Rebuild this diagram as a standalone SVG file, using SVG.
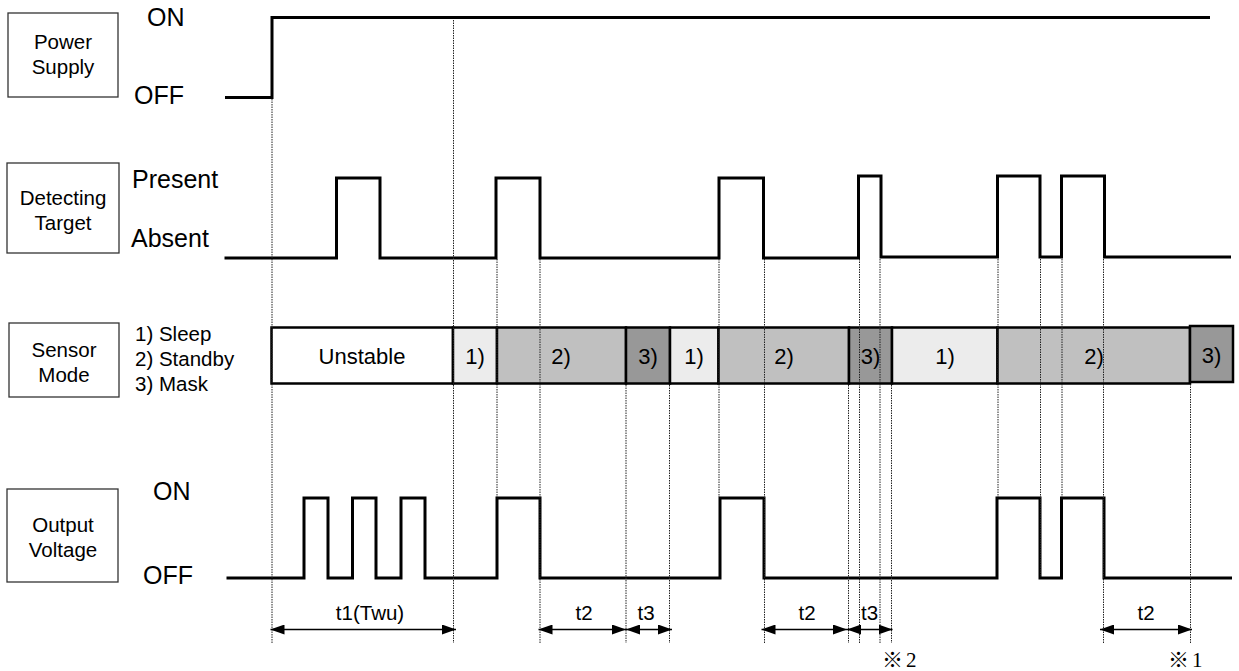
<svg xmlns="http://www.w3.org/2000/svg" width="1239" height="671" viewBox="0 0 1239 671">
<style>
text{font-family:"Liberation Sans",Arial,sans-serif;fill:#000}
.box{fill:#fff;stroke:#333;stroke-width:1.3}
.bt{font-size:20.5px;text-anchor:middle}
.lv{font-size:25px}
.ml{font-size:20.5px}
.wave{fill:none;stroke:#000;stroke-width:3;stroke-linejoin:miter}
.seg{stroke:#000;stroke-width:2.5}
.s0{fill:#fff}.s1{fill:#ececec}.s2{fill:#c0c0c0}.s3{fill:#989898}
.st{font-size:22px;text-anchor:middle}
.dot{stroke:#222;stroke-width:1;stroke-dasharray:1.5 1;fill:none}
.arr{stroke:#000;stroke-width:1.5;fill:none;marker-start:url(#ah);marker-end:url(#ah)}
.tl{font-size:20.5px;text-anchor:middle}
.nt{font-family:"Liberation Serif","Noto Sans CJK JP",serif;font-size:21px}
</style>
<defs>
<marker id="ah" viewBox="0 0 14 10" refX="14" refY="5" markerWidth="14" markerHeight="10" markerUnits="userSpaceOnUse" orient="auto-start-reverse">
<path d="M0,0L14,5L0,10z" fill="#000"/>
</marker>
</defs>
<rect width="1239" height="671" fill="#fff"/>

<g id="power-supply">
<rect class="box" x="8" y="13" width="110" height="84"/>
<text class="bt" x="63" y="49">Power</text>
<text class="bt" x="63" y="74">Supply</text>
<text class="lv" x="147" y="26">ON</text>
<text class="lv" x="134" y="104">OFF</text>
<path class="wave" d="M225,97.5H272V17.5H1210"/>
</g>

<g id="detecting-target">
<rect class="box" x="7" y="163" width="112" height="90"/>
<text class="bt" x="63" y="205">Detecting</text>
<text class="bt" x="63" y="230">Target</text>
<text class="lv" x="132" y="188">Present</text>
<text class="lv" x="131" y="247">Absent</text>
<path class="wave" d="M224.5,258H336.5V178H380V258H496V178H540V258H719V178H763.5V258H858.5V176H881V257H997.5V176H1040V257H1061.5V176H1104.5V257H1231"/>
</g>

<g id="sensor-mode">
<rect class="box" x="9" y="323" width="110" height="74"/>
<text class="bt" x="64" y="357">Sensor</text>
<text class="bt" x="64" y="382">Mode</text>
<text class="ml" x="135" y="341">1) Sleep</text>
<text class="ml" x="135" y="366">2) Standby</text>
<text class="ml" x="135" y="391">3) Mask</text>
</g>

<g id="sensor-bar">
<rect class="seg s0" x="271.5" y="327.5" width="181.5" height="56"/>
<rect class="seg s1" x="453" y="327.5" width="44" height="56"/>
<rect class="seg s2" x="497" y="327.5" width="129" height="56"/>
<rect class="seg s3" x="626" y="327.5" width="44" height="56"/>
<rect class="seg s1" x="670" y="327.5" width="48.5" height="56"/>
<rect class="seg s2" x="718.5" y="327.5" width="130.5" height="56"/>
<rect class="seg s3" x="849" y="327.5" width="43" height="56"/>
<rect class="seg s1" x="892" y="327.5" width="105.5" height="56"/>
<rect class="seg s2" x="997.5" y="327.5" width="192.5" height="56"/>
<rect class="seg s3" x="1190" y="326" width="43" height="56"/>
<text class="st" x="362" y="364">Unstable</text>
<text class="st" x="475" y="364">1)</text>
<text class="st" x="561" y="364">2)</text>
<text class="st" x="648" y="364">3)</text>
<text class="st" x="694" y="364">1)</text>
<text class="st" x="784" y="364">2)</text>
<text class="st" x="870.5" y="364">3)</text>
<text class="st" x="945" y="364">1)</text>
<text class="st" x="1094" y="364">2)</text>
<text class="st" x="1211.5" y="363">3)</text>
</g>

<g id="output-voltage">
<rect class="box" x="7" y="489" width="111" height="93"/>
<text class="bt" x="63" y="532">Output</text>
<text class="bt" x="63" y="557">Voltage</text>
<text class="lv" x="153" y="500">ON</text>
<text class="lv" x="143" y="584">OFF</text>
<path class="wave" d="M226.5,578H304V498H328V578H352.5V498H376V578H401V498H425V578H497V498H540V578H720V498H764V578H997V498H1040V578H1061.5V498H1104V578H1232"/>
</g>

<g id="connectors">
<path class="dot" d="M272,99V643M453.5,20V643M497,259V497M540,259V643M626,385V643M669.5,385V643M719,259V497M764.5,259V643M848.5,385V643M859.5,259V643M880,259V643M891.5,385V643M998,259V497M1040.5,259V577M1062,259V497M1103.5,259V643M1190.5,384V643"/>
<line class="arr" x1="270.5" y1="629.5" x2="456" y2="629.5"/>
<line class="arr" x1="538.5" y1="629.5" x2="626" y2="629.5"/>
<line class="arr" x1="626" y1="629.5" x2="672" y2="629.5"/>
<line class="arr" x1="761.5" y1="629.5" x2="847" y2="629.5"/>
<line class="arr" x1="847" y1="629.5" x2="892.5" y2="629.5"/>
<line class="arr" x1="1100" y1="629.5" x2="1192" y2="629.5"/>
</g>

<g id="labels">
<text class="tl" x="370" y="620">t1(Twu)</text>
<text class="tl" x="584" y="620">t2</text>
<text class="tl" x="646" y="620">t3</text>
<text class="tl" x="807" y="620">t2</text>
<text class="tl" x="869.5" y="620">t3</text>
<text class="tl" x="1146" y="620">t2</text>
<text class="nt" x="882" y="667" letter-spacing="3">※2</text>
<text class="nt" x="1168" y="667" letter-spacing="3">※1</text>
</g>
</svg>
